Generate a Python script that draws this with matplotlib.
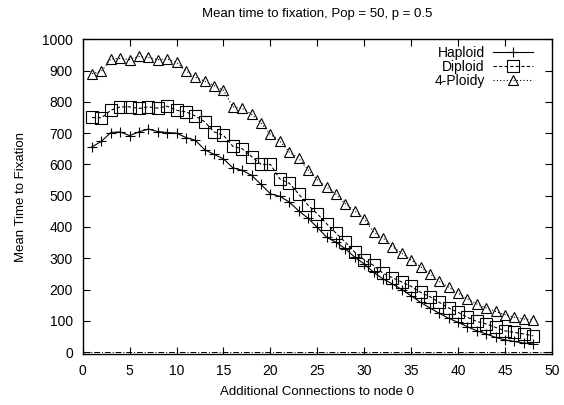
import numpy as np
import matplotlib
matplotlib.use("Agg")
import matplotlib.pyplot as plt

plt.rcParams['font.family'] = ['Liberation Sans', 'DejaVu Sans']

# additional connections to node 0
conn = list(range(1, 49))

haploid = [656, 674, 702, 704, 692, 704, 713, 705, 702, 700, 686, 677,
           647, 632, 618, 589, 581, 565, 536, 506, 498, 480, 452, 428,
           399, 367, 351, 330, 303, 282, 255, 234, 218, 200, 180, 159,
           141, 124, 108, 95, 81, 68, 58, 47, 39, 34, 29, 26]

diploid = [750, 749, 773, 784, 784, 779, 784, 780, 786, 773, 768, 755,
           736, 704, 693, 658, 650, 625, 600, 600, 554, 540, 506, 470,
           442, 410, 380, 351, 319, 295, 277, 252, 238, 224, 210, 191,
           177, 159, 141, 127, 111, 98, 90, 79, 68, 63, 58, 52]

ploidy4 = [890, 898, 937, 939, 935, 945, 942, 935, 937, 926, 899, 879,
           866, 852, 837, 784, 779, 760, 733, 696, 675, 640, 620, 583,
           551, 528, 504, 474, 451, 426, 383, 365, 337, 316, 294, 273,
           250, 226, 207, 188, 170, 154, 141, 130, 120, 111, 106, 103]

fig = plt.figure(figsize=(5.64, 4.05), dpi=100)
ax = fig.add_axes([0.1466, 0.126, 0.832, 0.777])

ax.axhline(0, color='black', lw=0.7, ls=(0, (6, 2, 1, 2)))

ax.plot(conn, haploid, color='black', lw=0.8, ls='-', marker='+',
        ms=7.5, mew=0.8, label='Haploid')
ax.plot(conn, diploid, color='black', lw=0.8, ls=(0, (3, 2)), marker='s',
        ms=8, mfc='none', mew=0.8, label='Diploid')
ax.plot(conn, ploidy4, color='black', lw=0.8, ls=(0, (1, 2)), marker='^',
        ms=7, mfc='none', mew=0.8, label='4-Ploidy')

ax.set_xlim(0, 50)
ax.set_ylim(-6, 1000)
ax.set_xticks(np.arange(0, 51, 5))
ax.set_yticks(np.arange(0, 1001, 100))
ax.tick_params(direction='in', length=5, width=0.8, top=True, right=True,
               labelsize=10, pad=7)
for s in ax.spines.values():
    s.set_linewidth(1.0)

ax.set_title("Mean time to fixation, Pop = 50, p = 0.5", fontsize=9.5, pad=16)
ax.set_xlabel("Additional Connections to node 0", fontsize=9.5, labelpad=6)
ax.set_ylabel("Mean Time to Fixation", fontsize=9.5, labelpad=11)

ax.legend(loc='upper right', bbox_to_anchor=(0.974, 1.0), frameon=False,
          markerfirst=False, fontsize=10, handlelength=2.9, labelspacing=0.0,
          handletextpad=0.6, borderaxespad=0.15, borderpad=0.3)

plt.savefig('out.png', dpi=100)
